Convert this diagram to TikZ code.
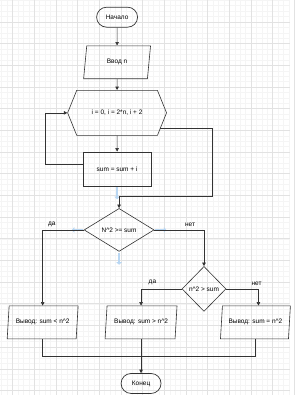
\documentclass[tikz,border=0pt]{standalone}
\usepackage{fontspec}
\setmainfont{Liberation Sans}
\usetikzlibrary{arrows.meta,positioning,shapes.geometric,shapes.symbols}

\definecolor{linegray}{HTML}{333333}
\definecolor{gridminor}{HTML}{F5F5F5}
\definecolor{gridmajor}{HTML}{E2E2E2}
\definecolor{hintblue}{HTML}{B9D7F3}

\begin{document}
\begin{tikzpicture}[
    x=1pt, y=-1pt,
    font=\fontsize{6.5}{8}\selectfont,
    node distance=10pt,
    terminal/.style={draw=linegray, line width=0.7pt, rounded corners=10pt,
      minimum width=41pt, minimum height=20pt, inner sep=0pt},
    io/.style={draw=linegray, line width=0.6pt, trapezium,
      trapezium left angle=76, trapezium right angle=104,
      trapezium stretches body, minimum height=33pt, inner sep=1pt},
    loopbox/.style={draw=linegray, line width=0.6pt, signal,
      signal to=east and west, signal pointer angle=136,
      minimum width=99pt, minimum height=45pt, inner sep=1pt},
    process/.style={draw=linegray, line width=0.6pt,
      minimum width=68pt, minimum height=34pt},
    decision/.style={draw=linegray, line width=0.6pt, diamond, inner sep=0pt},
    arrow/.style={draw=linegray, line width=0.6pt,
      -{Triangle[length=3.5pt, width=3.5pt]}},
    link/.style={draw=linegray, line width=0.6pt},
    hint/.style={draw=hintblue, line width=2.8pt,
      -{Triangle[length=2.5pt, width=5.5pt]}}
  ]
  % background grid
  \fill[white] (0,0) rectangle (290,395);
  \foreach \i in {0,...,53}
    \draw[gridminor, line width=0.3pt] (1.45+\i*5.425,0) -- (1.45+\i*5.425,395);
  \foreach \j in {0,...,72}
    \draw[gridminor, line width=0.3pt] (0,\j*5.425) -- (290,\j*5.425);
  \foreach \i in {0,...,13}
    \draw[gridmajor, line width=0.4pt] (12.3+\i*21.7,0) -- (12.3+\i*21.7,395);
  \foreach \j in {1,...,18}
    \draw[gridmajor, line width=0.4pt] (0,\j*21.7) -- (290,\j*21.7);
  \useasboundingbox (0,0) rectangle (290,395);

  % main column
  \node[terminal] (start) at (117,17) {Начало};
  \node[io, minimum width=67pt, trapezium left angle=68,
    trapezium right angle=112, below=18pt of start] (input) {Ввод n};
  \node[loopbox, below=11pt of input] (loop) {i = 0, i = 2*n, i + 2};
  \node[process, below=16pt of loop] (sum) {sum = sum + i};
  \node[decision, minimum width=70pt, minimum height=43pt,
    below=22pt of sum, xshift=2pt] (cmp1) {N\^{}2 >= sum};
  \node[decision, minimum width=44pt, minimum height=45pt] (cmp2) at (204,289)
    {n\^{}2 > sum};

  % outputs
  \node[io, minimum width=71pt] (outless) at (42.5,322.5) {Вывод: sum < n\^{}2};
  \node[io, minimum width=72pt] (outmore) at (141,322.5) {Вывод: sum > n\^{}2};
  \node[io, minimum width=70pt] (outeq) at (255.5,322.5) {Вывод: sum = n\^{}2};
  \node[terminal, minimum width=40pt, below=34pt of outmore] (finish) {Конец};
  \coordinate (merge) at (141,356);

  % hover hints
  \draw[hint] ([yshift=-1pt]sum.south) -- ++(0,12);
  \draw[hint] ([xshift=-1pt]cmp1.west) -- ++(-11,0);
  \draw[hint] ([xshift=1pt]cmp1.east) -- ++(11,0);
  \draw[hint] ([yshift=-1pt]cmp1.south) -- ++(0,12);

  % connectors
  \draw[arrow] (start) -- (input);
  \draw[arrow] (input) -- (loop);
  \draw[arrow] (loop) -- (sum);
  \draw[arrow] ([yshift=5pt]sum.west) -- ++(-38,0) |- (loop.west);
  \draw[arrow] (loop.-20) -- ++(52,0) -- ++(0,67.5) -| (cmp1.north);
  \draw[arrow] (cmp1.west) -| node[above, pos=0.39] {да} (outless.north);
  \draw[arrow] (cmp1.east) -| node[above, pos=0.36] {нет} (cmp2.north);
  \draw[arrow] (cmp2.west) -| node[above, pos=0.36] {да} (outmore.north);
  \draw[arrow] (cmp2.east) -| node[above, pos=0.47] {нет} ([xshift=3pt]outeq.north);
  \draw[link] (outless.south) |- (merge);
  \draw[link] (outeq.south) |- (merge);
  \draw[arrow] (outmore.south) -- (finish);
\end{tikzpicture}
\end{document}
